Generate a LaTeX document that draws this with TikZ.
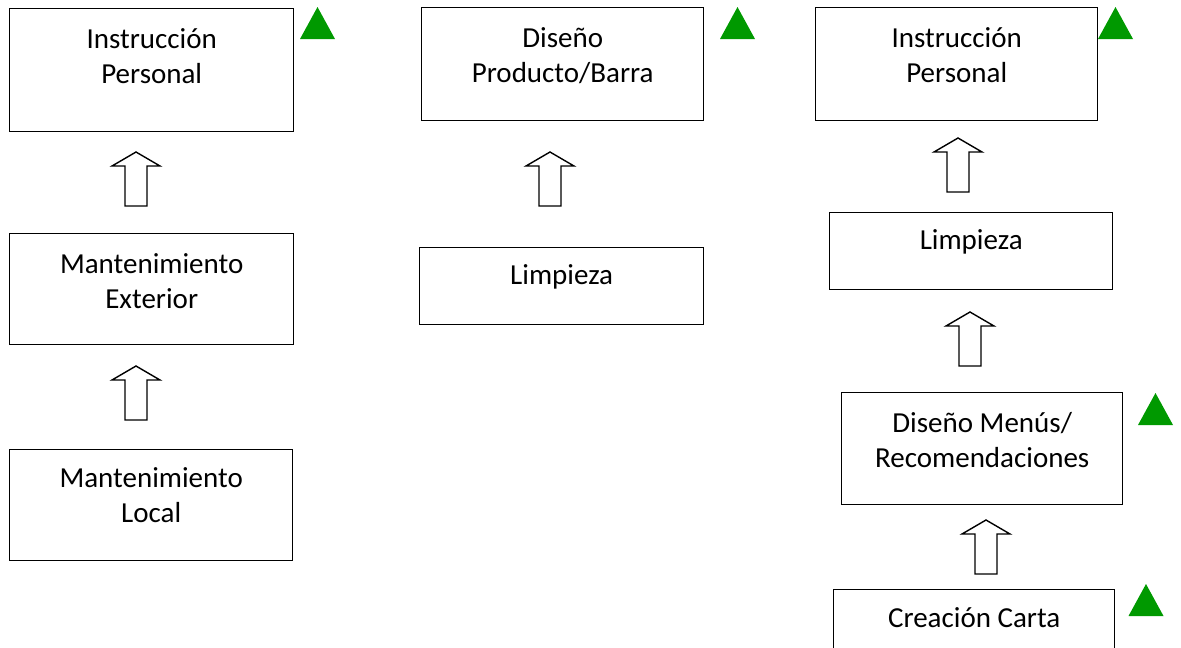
\documentclass[tikz,border=0pt]{standalone}
\usepackage{fontspec}
\setmainfont{Carlito}
\definecolor{markgreen}{RGB}{0,153,0}
\begin{document}
\begin{tikzpicture}[x=1pt,y=-1pt,
  stepbox/.style={draw, line width=1.4pt, rectangle, inner sep=0pt, anchor=north west},
  caption/.style={anchor=north, inner sep=0pt, align=center, font=\fontsize{29}{35}\selectfont},
  uparrow/.pic={\draw[line width=1.4pt, line join=miter, fill=white]
      (0,0) -- (24,14) -- (11,14) -- (11,54) -- (-11,54) -- (-11,14) -- (-24,14) -- cycle;},
  flag/.pic={\fill[markgreen] (0,0) -- (17.5,32) -- (-17.5,32) -- cycle;}
]
\useasboundingbox (0,0) rectangle (1181,648);
\clip (0,0) rectangle (1181,648);

% left column
\node[stepbox, minimum width=284pt, minimum height=123pt] (a1) at (9,8) {};
\node[caption] (a1t) at ([yshift=-15.5pt]a1.north) {\strut Instrucción\\Personal};
\node[stepbox, minimum width=284pt, minimum height=111pt] (a2) at (9,233) {};
\node[caption] (a2t) at ([yshift=-15.5pt]a2.north) {\strut Mantenimiento\\Exterior};
\node[stepbox, minimum width=283pt, minimum height=111pt] (a3) at (9,449) {};
\node[caption] (a3t) at ([yshift=-14pt]a3.north) {\strut Mantenimiento\\Local};
\pic (arrA1) at (136,152) {uparrow};
\pic (arrA2) at (136,366) {uparrow};
\pic (flagA) at (317.5,7) {flag};

% middle column
\node[stepbox, minimum width=282pt, minimum height=113pt] (b1) at (421,7) {};
\node[caption] (b1t) at ([yshift=-16pt]b1.north) {\strut Diseño\\Producto/Barra};
\node[stepbox, minimum width=284pt, minimum height=77pt] (b2) at (419,247) {};
\node[caption] (b2t) at ([yshift=-12.5pt]b2.north) {\strut Limpieza};
\pic (arrB1) at (550,152) {uparrow};
\pic (flagB) at (737.5,7) {flag};

% right column
\node[stepbox, minimum width=282pt, minimum height=113pt] (c1) at (815,7) {};
\node[caption] (c1t) at ([yshift=-16pt]c1.north) {\strut Instrucción\\Personal};
\node[stepbox, minimum width=283pt, minimum height=77pt] (c2) at (829,212) {};
\node[caption] (c2t) at ([yshift=-12.5pt]c2.north) {\strut Limpieza};
\node[stepbox, minimum width=281pt, minimum height=112pt] (c3) at (841,392) {};
\node[caption] (c3t) at ([yshift=-15.5pt]c3.north) {\strut Diseño Menús/\\Recomendaciones};
\node[stepbox, minimum width=281pt, minimum height=120pt] (c4) at (833,589) {};
\node[caption] (c4t) at ([yshift=-13.5pt]c4.north) {\strut Creación Carta};
\pic (arrC1) at (958,138) {uparrow};
\pic (arrC2) at (970,312) {uparrow};
\pic (arrC3) at (986,520) {uparrow};
\pic (flagC1) at (1115.5,7) {flag};
\pic (flagC3) at (1155.5,393) {flag};
\pic (flagC4) at (1146,584) {flag};
\end{tikzpicture}
\end{document}
